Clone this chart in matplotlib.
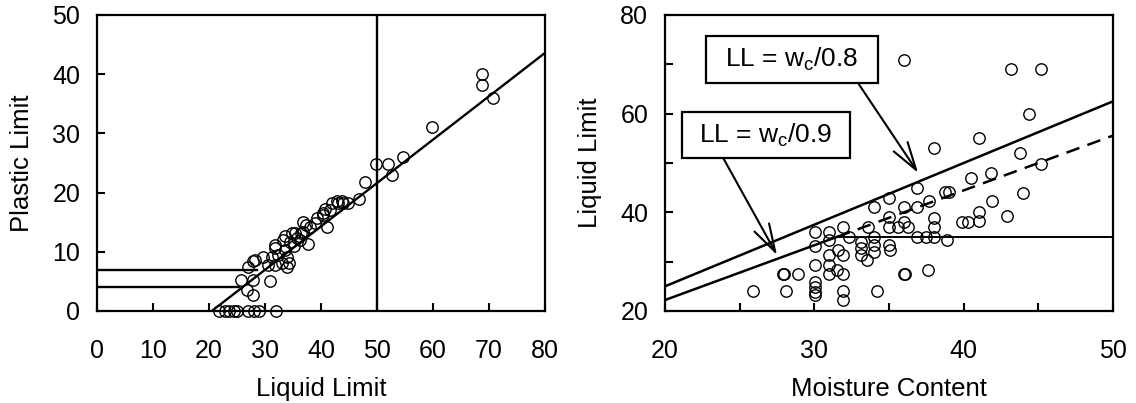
import matplotlib
matplotlib.use("Agg")
import matplotlib.pyplot as plt
import numpy as np
from matplotlib.patches import Rectangle

plt.rcParams['font.family'] = ['Liberation Sans', 'DejaVu Sans']
plt.rcParams['mathtext.fontset'] = 'custom'
plt.rcParams['mathtext.rm'] = 'Liberation Sans'
plt.rcParams['mathtext.it'] = 'Liberation Sans'

# ---------------- Left panel data ----------------
ll_left = [21.8, 22.8, 23.6, 24.4, 25.0, 27.0, 28.0, 29.0, 31.9,
           27.8, 26.8, 25.8, 27.9, 30.9, 27.0, 27.8, 28.2, 29.7, 31.2, 32.4,
           30.6, 33.0, 34.2, 33.6, 34.5, 35.4, 35.1, 36.3, 36.8, 37.7, 37.4,
           38.9, 39.2, 40.4, 41.0, 40.7, 41.9, 42.8, 43.7, 31.8, 33.6,
           31.8, 33.3, 34.8, 35.7, 36.5, 36.8, 38.0, 40.4, 41.6, 43.1, 44.0,
           44.9, 46.7, 47.9, 49.9, 51.9, 52.7, 54.7, 59.9, 68.8, 68.8, 70.8,
           31.8, 33.9, 33.9]
pl_left = [0, 0, 0, 0, 0, 0, 0, 0, 0,
           2.7, 3.6, 5.2, 5.2, 5.1, 7.5, 8.5, 8.6, 9.2, 9.2, 9.5,
           7.8, 8.1, 8.1, 10.3, 11.7, 13.1, 10.9, 12.0, 13.4, 11.4, 14.5,
           14.8, 15.7, 16.2, 14.2, 17.3, 18.2, 18.5, 18.5, 10.6, 12.6,
           11.1, 12.0, 13.1, 12.3, 13.1, 15.1, 14.2, 16.5, 17.1, 18.2, 18.2,
           18.2, 18.9, 21.8, 24.8, 24.8, 23.0, 26.0, 31.1, 40.1, 38.2, 35.9,
           7.8, 7.5, 9.2]
fit_ll = [20.5, 80]
fit_pl = [0, 43.6]
hline_pl = [7, 4]
hline_end = [28.5, 25.3]
vline_ll = 50
left_xticks = [0, 10, 20, 30, 40, 50, 60, 70, 80]
left_yticks = [0, 10, 20, 30, 40, 50]

# ---------------- Right panel data ----------------
wc_right = [36.0, 43.2, 45.2, 44.4, 41.0, 38.0, 43.8, 45.2, 41.8, 40.5, 44.0,
            36.9, 38.75, 39.0, 35.0, 34.0, 36.0, 36.9, 37.7, 35.0, 38.0, 41.9,
            41.0, 42.9, 39.9, 40.3, 41.0, 36.0, 36.3, 35.6, 35.0, 33.6, 31.9,
            31.0, 30.05, 38.0, 36.9, 37.5, 38.0, 32.3, 34.0, 38.9, 31.0, 30.05,
            31.6, 33.1, 33.1, 33.1, 33.5, 34.0, 34.0, 35.0, 35.1, 31.0, 31.9,
            30.05, 31.0, 31.5, 31.0, 31.9, 28.9, 27.9, 28.0, 36.0, 36.1, 37.6,
            30.05, 30.05, 30.05, 30.05, 31.9, 31.9, 25.9, 28.1, 34.2]
ll_right = [70.9, 69.0, 69.0, 59.9, 55.0, 53.1, 52.1, 49.8, 47.9, 46.9, 44.0,
            44.9, 44.2, 44.2, 43.0, 41.1, 41.1, 41.1, 42.2, 39.1, 38.8, 42.2,
            40.1, 39.3, 38.1, 38.1, 38.3, 38.1, 37.1, 37.1, 37.1, 37.1, 37.1,
            36.1, 36.1, 37.1, 35.1, 35.1, 35.1, 35.1, 35.1, 34.3, 34.4, 33.2,
            32.4, 34.0, 32.7, 31.4, 30.3, 33.4, 32.0, 33.4, 32.4, 31.4, 31.4,
            29.3, 29.3, 28.3, 27.4, 27.4, 27.4, 27.4, 27.4, 27.4, 27.4, 28.3,
            25.9, 24.9, 23.9, 23.2, 24.1, 22.2, 24.1, 24.1, 24.1]
wc_line = np.array([20, 50])
ratio_08 = 0.8
ratio_09 = 0.9
ll_cap = 35
right_xticks = [20, 25, 30, 35, 40, 45, 50]
right_xlabels = ['20', '', '30', '', '40', '', '50']
right_yticks = [20, 30, 40, 50, 60, 70, 80]
right_ylabels = ['20', '', '40', '', '60', '', '80']

TICK_FS = 18
LABEL_FS = 18.5
BOX_FS = 19
fig = plt.figure(figsize=(11.36, 4.03), dpi=100)
axL = fig.add_axes([97/1136, 92/403, 448/1136, 296/403])
axR = fig.add_axes([665/1136, 92/403, 448/1136, 296/403])

def style(ax):
    for s in ax.spines.values():
        s.set_linewidth(1.6)
    ax.tick_params(direction='in', length=6, width=1.5, labelsize=TICK_FS)
    ax.tick_params(axis='x', pad=20)
    ax.tick_params(axis='y', pad=12)

mk = dict(marker='o', ms=8.2, mfc='none', mec='black', mew=1.0, ls='none', clip_on=False, zorder=3)

def labels(ax, xl, yl):
    ax.set_xlabel(xl, fontsize=LABEL_FS)
    ax.set_ylabel(yl, fontsize=LABEL_FS)
    ax.xaxis.set_label_coords(0.5, -0.262)
    ax.xaxis.label.set_va('center')
    ax.yaxis.set_label_coords(-0.167, 0.5)
    ax.yaxis.label.set_va('center')

# Left panel
style(axL)
axL.plot(ll_left, pl_left, **mk)
axL.plot(fit_ll, fit_pl, color='black', lw=1.7)
for p, e in zip(hline_pl, hline_end):
    axL.plot([0, e], [p, p], color='black', lw=1.7)
axL.axvline(vline_ll, color='black', lw=1.7)
axL.set_xlim(0, 80)
axL.set_ylim(0, 50)
axL.set_xticks(left_xticks)
axL.set_yticks(left_yticks)
labels(axL, 'Liquid Limit', 'Plastic Limit')

# Right panel
style(axR)
axR.plot(wc_right, ll_right, **mk)
axR.plot(wc_line, wc_line / ratio_08, color='black', lw=1.8)
wc_knee = ll_cap * ratio_09
axR.plot([wc_line[0], wc_knee], [wc_line[0] / ratio_09, ll_cap], color='black', lw=1.8)
axR.plot([wc_knee, wc_line[1]], [ll_cap, ll_cap], color='black', lw=1.4)
dl, = axR.plot([wc_knee, wc_line[1]], [ll_cap, wc_line[1] / ratio_09], color='black', lw=1.8)
dl.set_dashes([5.5, 3.4])
axR.set_xlim(20, 50)
axR.set_ylim(20, 80)
axR.set_xticks(right_xticks)
axR.set_xticklabels(right_xlabels)
axR.set_yticks(right_yticks)
axR.set_yticklabels(right_ylabels)
labels(axR, 'Moisture Content', 'Liquid Limit')

# Label boxes with arrows
boxes = [((0.0915, 0.770), 0.384, 0.159, r'LL = w$_\mathregular{c}$/0.8', (32.93, 66.2), (36.95, 48.0)),
         ((0.038, 0.517), 0.375, 0.155, r'LL = w$_\mathregular{c}$/0.9', (23.9, 51.0), (27.5, 31.35))]
for (x0, y0), w, h, txt, start, end in boxes:
    axR.add_patch(Rectangle((x0, y0), w, h, transform=axR.transAxes, fill=True,
                            facecolor='white', edgecolor='black', lw=1.6, zorder=5))
    axR.text(x0 + w / 2, y0 + h / 2, txt, transform=axR.transAxes, ha='center', va='center',
             fontsize=BOX_FS, zorder=6)
    axR.annotate('', xy=end, xytext=start,
                 arrowprops=dict(arrowstyle='->,head_length=1.0,head_width=0.3', lw=1.5,
                                 color='black', mutation_scale=20, shrinkA=0, shrinkB=0),
                 zorder=4)

fig.savefig('out.png', dpi=100)
